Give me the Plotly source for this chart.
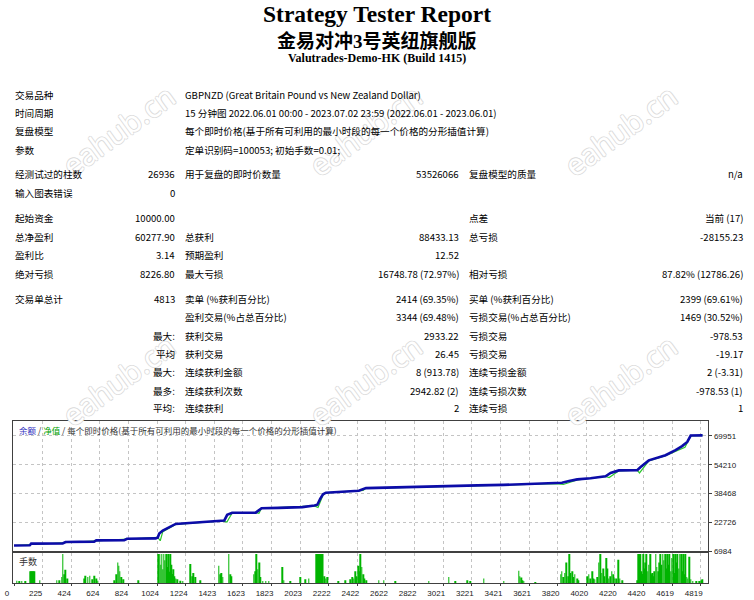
import plotly.graph_objects as go

W, H = 754, 600

# ---- report header ----
title_main = "Strategy Tester Report"
title_ea = "金易对冲3号英纽旗舰版"
title_server = "Valutrades-Demo-HK (Build 1415)"

# ---- report table: label, value, label, value, label, value ----
report_rows = [
    ["交易品种", "", "GBPNZD (Great Britain Pound vs New Zealand Dollar)", "", "", ""],
    ["时间周期", "", "15 分钟图 2022.06.01 00:00 - 2023.07.02 23:59 (2022.06.01 - 2023.06.01)", "", "", ""],
    ["复盘模型", "", "每个即时价格(基于所有可利用的最小时段的每一个价格的分形插值计算)", "", "", ""],
    ["参数", "", "定单识别码=100053; 初始手数=0.01;", "", "", ""],
    ["经测试过的柱数", "26936", "用于复盘的即时价数量", "53526066", "复盘模型的质量", "n/a"],
    ["输入图表错误", "0", "", "", "", ""],
    ["起始资金", "10000.00", "", "", "点差", "当前 (17)"],
    ["总净盈利", "60277.90", "总获利", "88433.13", "总亏损", "-28155.23"],
    ["盈利比", "3.14", "预期盈利", "12.52", "", ""],
    ["绝对亏损", "8226.80", "最大亏损", "16748.78 (72.97%)", "相对亏损", "87.82% (12786.26)"],
    ["交易单总计", "4813", "卖单 (%获利百分比)", "2414 (69.35%)", "买单 (%获利百分比)", "2399 (69.61%)"],
    ["", "", "盈利交易(%占总百分比)", "3344 (69.48%)", "亏损交易(%占总百分比)", "1469 (30.52%)"],
    ["", "最大:", "获利交易", "2933.22", "亏损交易", "-978.53"],
    ["", "平均", "获利交易", "26.45", "亏损交易", "-19.17"],
    ["", "最大:", "连续获利金额", "8 (913.78)", "连续亏损金额", "2 (-3.31)"],
    ["", "最多:", "连续获利次数", "2942.82 (2)", "连续亏损次数", "-978.53 (1)"],
    ["", "平均:", "连续获利", "2", "连续亏损", "1"],
]

# ---- balance / equity curves (trade number, account value) ----
balance_trade = [0, 110, 120, 340, 360, 395, 560, 575, 770, 790, 990, 1005, 1015, 1040,
                 1080, 1130, 1200, 1300, 1455, 1470, 1490, 1525, 1690, 1730, 1850, 2015,
                 2100, 2120, 2140, 2160, 2180, 2390, 2410, 2460, 2600, 2620, 2950, 3000,
                 3240, 3420, 3540, 3790, 3830, 3880, 3937, 4030, 4135, 4170, 4228, 4356,
                 4380, 4437, 4554, 4624, 4670, 4706, 4730, 4813]
balance_value = [10000, 10100, 11000, 11100, 11900, 12000, 12100, 12800, 12900, 13700,
                 13900, 14400, 16500, 18200, 20000, 21800, 22200, 22700, 23600, 23700,
                 26800, 27900, 28000, 30400, 30600, 31000, 31900, 32300, 35500, 38000,
                 38900, 39700, 40000, 41400, 41600, 42000, 42400, 42500, 42900, 43200,
                 43500, 43800, 44300, 45300, 46200, 46800, 47900, 49700, 51100, 51200,
                 53000, 56600, 59400, 62200, 64400, 66700, 70200, 70278]

equity_trade = [0, 1005, 1022, 1040, 1130, 1455, 1488, 1525, 1690, 1712, 1730, 2100, 2125,
                2160, 2180, 2400, 2440, 2460, 3790, 3840, 3937, 4135, 4160, 4228, 4356,
                4372, 4437, 4554, 4624, 4690, 4706, 4730, 4813]
equity_value = [10000, 14400, 12600, 17600, 21500, 23500, 22800, 27800, 28000, 27600,
                30400, 31700, 30800, 37600, 38800, 39700, 40200, 41300, 43800, 43400,
                45900, 47800, 47200, 50900, 51200, 49700, 56300, 59200, 61800, 63800,
                66300, 70000, 70278]

# ---- lots per trade (volume panel) ----
vol_trade = [20, 35, 55, 80, 115, 122, 130, 137, 143, 180, 300, 315, 335, 341, 350, 360, 372,
             490, 500, 515, 530, 545, 560, 575, 585, 700, 715, 725, 732, 740, 750, 765, 870,
             1010, 1018, 1025, 1032, 1040, 1048, 1055, 1062, 1070, 1078, 1085, 1093, 1100,
             1108, 1115, 1122, 1130, 1140, 1160, 1180, 1234, 1245, 1255, 1265, 1300, 1432,
             1440, 1450, 1460, 1502, 1510, 1520, 1676, 1688, 1695, 1704, 1714, 1722, 1740,
             1760, 1780, 1874, 1886, 1932, 2003, 2037, 2060, 2112, 2119, 2126, 2133, 2140,
             2147, 2154, 2159, 2170, 2180, 2192, 2267, 2314, 2349, 2364, 2375, 2385, 2395,
             2405, 2415, 2422, 2430, 2440, 2450, 2460, 2549, 2584, 2666, 2899, 3039, 3086,
             3167, 3191, 3284, 3424, 3528, 3535, 3545, 3552, 3564, 3645, 3822, 3830, 3840,
             3850, 3860, 3872, 3882, 3890, 3900, 3910, 3920, 3935, 3945, 4006, 4018, 4028,
             4040, 4050, 4060, 4075, 4088, 4098, 4108, 4118, 4128, 4138, 4148, 4158, 4168,
             4178, 4190, 4200, 4212, 4225, 4235, 4250, 4356, 4364, 4370, 4378, 4385, 4392,
             4400, 4408, 4415, 4422, 4430, 4438, 4446, 4454, 4462, 4470, 4478, 4486, 4494,
             4502, 4510, 4518, 4526, 4534, 4542, 4550, 4558, 4566, 4574, 4582, 4590, 4598,
             4606, 4614, 4622, 4630, 4638, 4646, 4654, 4662, 4670, 4678, 4686, 4694, 4702,
             4710, 4720, 4730, 4745, 4770, 4790, 4805, 4812]
vol_lots = [0.05, 0.03, 0.03, 0.04, 0.26, 0.26, 0.26, 0.26, 0.26, 0.06, 0.06, 0.06, 0.13, 0.64,
            0.19, 0.29, 0.10, 0.10, 0.16, 0.13, 0.16, 0.08, 0.16, 0.10, 0.05, 0.06, 0.19, 0.45,
            0.38, 0.26, 0.13, 0.08, 0.06, 0.64, 0.64, 0.40, 0.64, 0.30, 0.64, 0.50, 0.64, 0.35,
            0.64, 0.25, 0.64, 0.40, 0.20, 0.30, 0.15, 0.10, 0.08, 0.05, 0.04, 0.42, 0.15, 0.22,
            0.13, 0.06, 0.38, 0.19, 0.22, 0.13, 0.64, 0.19, 0.15, 0.19, 0.26, 0.64, 0.30, 0.45,
            0.13, 0.04, 0.03, 0.03, 0.35, 0.06, 0.03, 0.13, 0.08, 0.10, 0.64, 0.64, 0.64, 0.64,
            0.64, 0.64, 0.64, 0.64, 0.15, 0.10, 0.13, 0.03, 0.06, 0.08, 0.13, 0.10, 0.26, 0.15,
            0.38, 0.26, 0.64, 0.35, 0.19, 0.10, 0.06, 0.06, 0.06, 0.03, 0.03, 0.13, 0.03, 0.06,
            0.04, 0.10, 0.04, 0.27, 0.15, 0.12, 0.06, 0.03, 0.02, 0.19, 0.26, 0.13, 0.22, 0.45,
            0.15, 0.64, 0.22, 0.26, 0.13, 0.19, 0.10, 0.06, 0.15, 0.19, 0.10, 0.26, 0.10, 0.08,
            0.13, 0.45, 0.64, 0.22, 0.32, 0.15, 0.55, 0.32, 0.10, 0.15, 0.26, 0.19, 0.10, 0.10,
            0.51, 0.10, 0.06, 0.06, 0.64, 0.64, 0.64, 0.26, 0.20, 0.64, 0.32, 0.45, 0.64, 0.26,
            0.40, 0.64, 0.19, 0.22, 0.15, 0.26, 0.64, 0.35, 0.26, 0.45, 0.64, 0.40, 0.64, 0.50,
            0.64, 0.32, 0.64, 0.40, 0.64, 0.26, 0.55, 0.64, 0.22, 0.64, 0.45, 0.64, 0.32, 0.64,
            0.64, 0.26, 0.64, 0.19, 0.64, 0.13, 0.10, 0.58, 0.08, 0.03, 0.03, 0.04, 0.06, 0.08]

# axis ticks
y_ticks = [6984, 22726, 38468, 54210, 69951]
x_grid = [200 * i for i in range(25)]
x_labels = ["0", "225", "424", "624", "824", "1024", "1224", "1423", "1623", "1823", "2023",
            "2222", "2422", "2622", "2822", "3021", "3221", "3421", "3621", "3820", "4020",
            "4220", "4420", "4619", "4819"]

watermark = "eahub.cn"


def px(x):
    return x / W


def py(y):
    return 1 - y / H


CJK = "Noto Sans CJK SC"
SERIF = "Liberation Serif, Noto Sans CJK SC"

fig = go.Figure()

fig.add_trace(go.Scatter(x=equity_trade, y=equity_value, mode="lines",
                         line=dict(color="#2cc82c", width=1.2), xaxis="x", yaxis="y",
                         hoverinfo="skip"))
fig.add_trace(go.Scatter(x=balance_trade, y=balance_value, mode="lines",
                         line=dict(color="#0c0ca8", width=2.6), xaxis="x", yaxis="y"))
fig.add_trace(go.Bar(x=vol_trade, y=vol_lots, width=5, marker=dict(color="#00b400", line_width=0),
                     xaxis="x2", yaxis="y2"))

annotations = []

# watermarks (drawn first, behind text)
for wy in [130, 380]:
    for wx in [118, 365, 620]:
        annotations.append(dict(
            x=px(wx), y=py(wy), xref="paper", yref="paper", text=watermark, showarrow=False,
            textangle=-36, xanchor="center", yanchor="middle",
            font=dict(family="Noto Sans", size=30, color="white",
                      shadow="1px 0 0 #dcdcdc, -1px 0 0 #dcdcdc, 0 1px 0 #dcdcdc, 0 -1px 0 #dcdcdc"),
        ))

# titles
for txt, ty, size in [(title_main, 14, 23.5), (title_ea, 41, 19), (title_server, 58, 12)]:
    annotations.append(dict(x=0.5, y=py(ty), xref="paper", yref="paper", text="<b>%s</b>" % txt,
                            showarrow=False, xanchor="center", yanchor="middle",
                            font=dict(family=SERIF, size=size, color="black")))

# report table
row_y = [95, 113, 131, 150, 174, 193, 218, 237, 255, 274, 299, 317, 336, 354, 372, 391, 408]
col_x = [13, 177, 183, 461, 467, 745]
col_anchor = ["left", "right", "left", "right", "left", "right"]
for row, ry in zip(report_rows, row_y):
    for txt, cx, anc in zip(row, col_x, col_anchor):
        if not txt:
            continue
        annotations.append(dict(x=px(cx), y=py(ry), xref="paper", yref="paper", text=txt,
                                showarrow=False, xanchor=anc, yanchor="middle",
                                font=dict(family=CJK, size=9.6, color="black")))

# chart captions
annotations.append(dict(
    x=px(17), y=py(430), xref="paper", yref="paper", xanchor="left", yanchor="middle",
    showarrow=False,
    text='<span style="color:#3030c0">余额</span> / <span style="color:#00a000">净值</span> / '
         '每个即时价格(基于所有可利用的最小时段的每一个价格的分形插值计算)',
    font=dict(family=CJK, size=8.5, color="#333333")))
annotations.append(dict(x=px(17), y=py(561), xref="paper", yref="paper", xanchor="left",
                        yanchor="middle", showarrow=False, text="手数",
                        font=dict(family=CJK, size=9, color="#333333")))

grid = dict(showgrid=True, gridcolor="#c4c4c4", griddash="3px,3px", gridwidth=1)
frame = dict(showline=True, mirror=True, linecolor="#404040", linewidth=1, zeroline=False)
x_dom = [px(13.3), px(708.3)]

fig.update_layout(
    width=W, height=H, autosize=False,
    margin=dict(l=0, r=0, t=0, b=0),
    paper_bgcolor="white", plot_bgcolor="white",
    showlegend=False,
    annotations=annotations,
    xaxis=dict(domain=x_dom, range=[-5, 4853], anchor="y", tickvals=x_grid,
               showticklabels=False, ticks="", automargin=False, **grid, **frame),
    yaxis=dict(domain=[py(551), py(421)], range=[6984, 78150], side="right", anchor="x",
               tickvals=y_ticks, tickformat="d", ticks="outside", ticklen=3, tickcolor="#404040",
               tickfont=dict(family="Liberation Sans", size=8, color="#222222"),
               automargin=False, **grid, **frame),
    xaxis2=dict(domain=x_dom, matches="x", anchor="y2", tickvals=x_grid, ticktext=x_labels,
                ticks="outside", ticklen=2, tickcolor="#404040", ticklabelshift=-7,
                tickfont=dict(family="Liberation Sans", size=8, color="#222222"),
                automargin=False, **grid, **frame),
    yaxis2=dict(domain=[py(583), py(553)], range=[0, 0.66], anchor="x2",
                showticklabels=False, showgrid=False, ticks="", automargin=False, **frame),
)

# drop the browser's default page margin so the 754x600 figure fills the window
fig.write_html("out.html", config={"displayModeBar": False},
               post_script="document.body.style.margin = '0';")
